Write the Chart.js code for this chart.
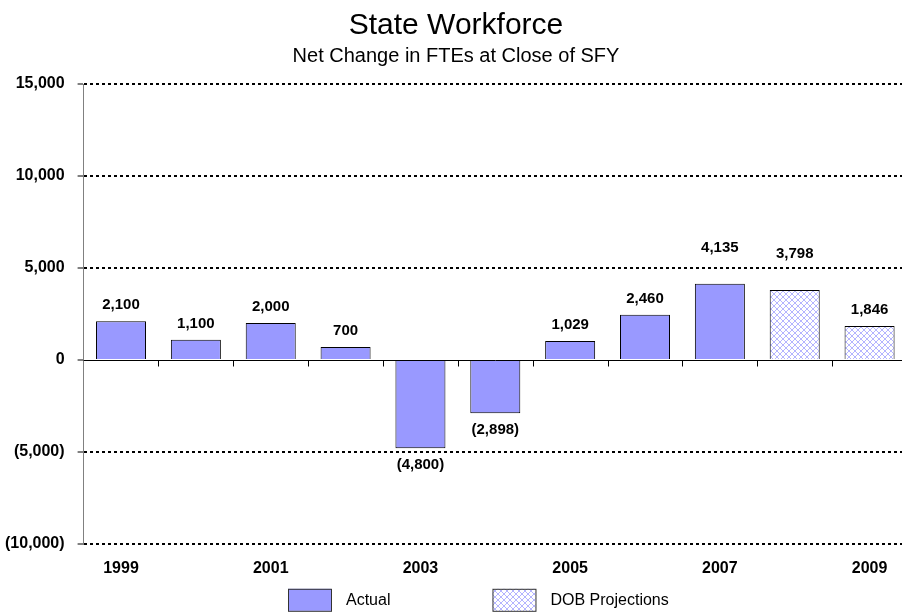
<!DOCTYPE html>
<html lang="en">
  <head>
    <meta charset="UTF-8" />
    <title>State Workforce</title>
    <script src="https://cdn.jsdelivr.net/npm/chart.js"></script>
    <style>
      html,
      body {
        margin: 0;
        padding: 0;
        background: #ffffff;
        overflow: hidden;
      }
      /* the original chart is a bit wider than the window and gets cut on the right */
      #wrap {
        width: 910px;
        height: 612px;
      }
    </style>
  </head>
  <body>
    <div id="wrap"><canvas id="fteChart" width="910" height="612"></canvas></div>

    <script>
      // Data
      const years = ["1999", "2000", "2001", "2002", "2003", "2004", "2005", "2006", "2007", "2008", "2009"];
      const actual = [2100, 1100, 2000, 700, -4800, -2898, 1029, 2460, 4135, null, null];
      const projections = [null, null, null, null, null, null, null, null, null, 3798, 1846];
      const yTicks = [-10000, -5000, 0, 5000, 10000, 15000];

      const FONT = "Arial, 'Liberation Sans', sans-serif";

      // 1,234 / (1,234) like the spreadsheet
      function fmt(v) {
        const s = Math.abs(v).toLocaleString("en-US");
        return v < 0 ? "(" + s + ")" : s;
      }

      // light crosshatch for the projection bars
      function makeHatch() {
        const c = document.createElement("canvas");
        c.width = 6;
        c.height = 6;
        const g = c.getContext("2d");
        g.fillStyle = "#ffffff";
        g.fillRect(0, 0, 6, 6);
        g.strokeStyle = "#b4b4ff";
        g.lineWidth = 1;
        g.beginPath();
        g.moveTo(0, 0);
        g.lineTo(6, 6);
        g.moveTo(6, 0);
        g.lineTo(0, 6);
        g.stroke();
        return g.createPattern(c, "repeat");
      }

      // zero line, value labels and the legend
      const extras = {
        id: "extras",
        beforeDatasetsDraw(chart) {
          const { ctx, chartArea, scales } = chart;
          const x = scales.x;
          const zeroY = Math.round(scales.y.getPixelForValue(0)) + 0.5;
          ctx.save();
          ctx.strokeStyle = "#000000";
          ctx.lineWidth = 1;
          ctx.beginPath();
          ctx.moveTo(chartArea.left, zeroY);
          ctx.lineTo(chartArea.right, zeroY);
          for (let i = 1; i < years.length; i++) {
            const bx = Math.round((x.getPixelForValue(i - 1) + x.getPixelForValue(i)) / 2) + 0.5;
            ctx.moveTo(bx, zeroY);
            ctx.lineTo(bx, zeroY + 6);
          }
          ctx.stroke();
          ctx.restore();
        },
        afterDatasetsDraw(chart) {
          const { ctx, chartArea, scales } = chart;
          const gridYs = yTicks.filter((t) => t !== 0).map((t) => scales.y.getPixelForValue(t));
          ctx.save();
          ctx.fillStyle = "#000000";
          ctx.font = "bold 15px " + FONT;
          ctx.textAlign = "center";
          ctx.textBaseline = "middle";
          chart.data.datasets.forEach((ds, di) => {
            chart.getDatasetMeta(di).data.forEach((bar, i) => {
              const v = ds.data[i];
              if (v == null) return;
              let ly;
              if (v >= 0) {
                ly = bar.y - 16;
                // lift the label clear of a gridline
                if (gridYs.some((g) => Math.abs(g - ly) < 8)) ly -= 20;
              } else {
                ly = bar.y + 17;
              }
              ctx.fillText(fmt(v), bar.x, ly);
            });
          });

          // legend
          const boxW = 43;
          const boxH = 22;
          const top = chartArea.bottom + 45;
          let lx = 288;
          ctx.font = "16px " + FONT;
          ctx.textAlign = "left";
          chart.data.datasets.forEach((ds) => {
            ctx.fillStyle = ds.backgroundColor;
            ctx.fillRect(lx, top, boxW, boxH);
            ctx.strokeStyle = "#333333";
            ctx.lineWidth = 1;
            ctx.strokeRect(lx + 0.5, top + 0.5, boxW, boxH);
            ctx.fillStyle = "#000000";
            ctx.fillText(ds.label, lx + boxW + 15, top + boxH / 2 + 1);
            lx += boxW + 15 + ctx.measureText(ds.label).width + 102;
          });
          ctx.restore();
        },
      };

      window.onload = () => {
        const ctx = document.getElementById("fteChart").getContext("2d");
        new Chart(ctx, {
          type: "bar",
          data: {
            labels: years,
            datasets: [
              {
                label: "Actual",
                data: actual,
                backgroundColor: "#9999ff",
                borderColor: "#000000",
                borderWidth: 1,
              },
              {
                label: "DOB Projections",
                data: projections,
                backgroundColor: makeHatch(),
                borderColor: "#000000",
                borderWidth: 1,
              },
            ],
          },
          options: {
            responsive: false,
            animation: false,
            devicePixelRatio: 1,
            layout: { padding: { left: 5, right: 3, top: 0, bottom: 19 } },
            datasets: {
              bar: { grouped: false, barPercentage: 0.668, categoryPercentage: 1 },
            },
            plugins: {
              legend: { display: false },
              tooltip: { enabled: false },
              title: {
                display: true,
                text: "State Workforce",
                color: "#000000",
                font: { family: FONT, size: 30, weight: "normal" },
                padding: { top: 8, bottom: 0 },
              },
              subtitle: {
                display: true,
                text: "Net Change in FTEs at Close of SFY",
                color: "#000000",
                font: { family: FONT, size: 20, weight: "normal" },
                padding: { top: 0, bottom: 16 },
              },
            },
            scales: {
              x: {
                grid: { display: false, drawTicks: false },
                border: { display: false },
                ticks: {
                  autoSkip: false,
                  maxRotation: 0,
                  padding: 15,
                  color: "#000000",
                  font: { family: FONT, size: 16, weight: "bold" },
                  callback(v, i) {
                    return i % 2 === 0 ? this.getLabelForValue(v) : "";
                  },
                },
              },
              y: {
                min: yTicks[0],
                max: yTicks[yTicks.length - 1],
                afterBuildTicks(scale) {
                  scale.ticks = yTicks.map((v) => ({ value: v }));
                },
                // tick padding ends up counted twice in the axis width
                afterFit(scale) {
                  scale.width -= 13;
                },
                ticks: {
                  padding: 13,
                  color: "#000000",
                  font: { family: FONT, size: 16, weight: "bold" },
                  callback: (v) => fmt(v),
                },
                grid: {
                  color: (c) => (c.tick && c.tick.value === 0 ? "rgba(0,0,0,0)" : "#000000"),
                  lineWidth: 2,
                  tickLength: 6,
                  tickColor: "#000000",
                  tickWidth: 1,
                },
                border: { color: "#808080", width: 1, dash: [3, 3] },
              },
            },
          },
          plugins: [extras],
        });
      };
    </script>
  </body>
</html>
